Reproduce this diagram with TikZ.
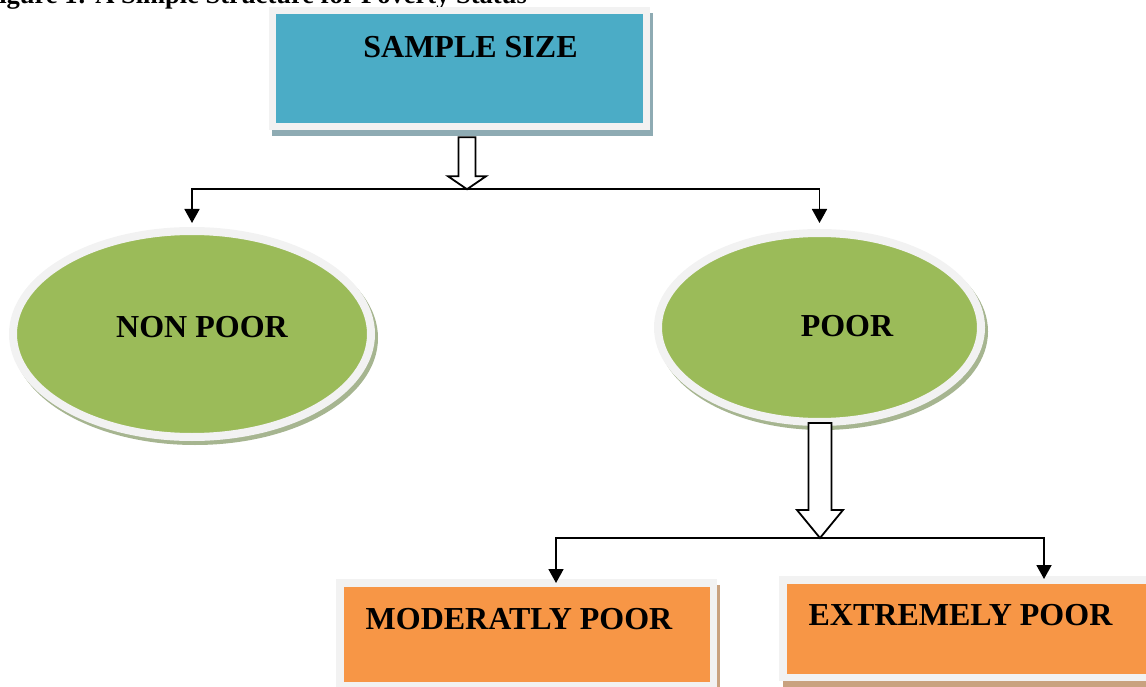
\documentclass[tikz,border=0pt]{standalone}
\usepackage{fontspec}
\setmainfont{Liberation Serif}
\usepackage{xcolor}
\usetikzlibrary{arrows.meta,calc,shadows,shapes.geometric}
\definecolor{BoxBlue}{HTML}{4BACC6}
\definecolor{LeafGreen}{HTML}{9BBB59}
\definecolor{Tangerine}{HTML}{F79646}
\definecolor{Frame}{HTML}{F2F2F2}
\definecolor{BlueShade}{HTML}{8EABB3}
\definecolor{GreenShade}{HTML}{A6B590}
\definecolor{OrangeShade}{HTML}{C9A27F}

\tikzset{
  panel/.style={rectangle, draw=Frame, line width=7.5pt, inner sep=0pt},
  oval/.style={ellipse, draw=Frame, fill=LeafGreen, line width=8pt, inner sep=0pt,
    general shadow={draw=GreenShade, fill=GreenShade, line width=8pt, shadow xshift=3pt, shadow yshift=-4pt}},
  tag/.style={anchor=base, inner sep=0pt, font=\fontsize{32}{38}\selectfont\bfseries},
  link/.style={line width=1.8pt, -{Triangle[width=15pt,length=14pt]}},
  hollow/.style={draw=black, fill=white, line width=1.8pt, line join=miter}
}

% hollow block arrow: tip, length, shaft half width, head half width, head length
\newcommand{\blockarrow}[5]{%
  \draw[hollow] ($(#1)+(-#3,-#2)$) -- ($(#1)+(#3,-#2)$) -- ($(#1)+(#3,-#5)$)
    -- ($(#1)+(#4,-#5)$) -- (#1) -- ($(#1)+(-#4,-#5)$) -- ($(#1)+(-#3,-#5)$) -- cycle;}

\begin{document}
\begin{tikzpicture}[x=1pt, y=-1pt]
\useasboundingbox (0,0) rectangle (1146,687);
\clip (0,0) rectangle (1146,687);
\node[anchor=base east, inner sep=0pt, font=\fontsize{26.5}{30}\selectfont\bfseries] (title) at (527,4) {Figure 1: A Simple Structure for Poverty Status};
% shapes
\node[panel, fill=BoxBlue, minimum width=374pt, minimum height=116pt,
  general shadow={draw=BlueShade, fill=BlueShade, line width=7.5pt, shadow xshift=3pt, shadow yshift=-6pt}] (sample) at (459.5,68.5) {};
\node[oval, minimum width=358pt, minimum height=206pt] (nonpoor) at (192,334) {};
\node[oval, minimum width=323pt, minimum height=189pt] (poor) at (819.5,327.5) {};
\node[panel, fill=Tangerine, minimum width=373.5pt, minimum height=103pt,
  general shadow={draw=OrangeShade, fill=OrangeShade, line width=7.5pt, shadow xshift=3pt, shadow yshift=-6pt}] (moderate) at (526.5,634.25) {};
\node[panel, fill=Tangerine, minimum width=378pt, minimum height=97.5pt,
  general shadow={draw=OrangeShade, fill=OrangeShade, line width=7.5pt, shadow xshift=4pt, shadow yshift=-6pt}] (extreme) at (972,628.5) {};
% texts
\node[tag] (tSample) at (470.5,58) {SAMPLE SIZE};
\node[tag] (tNonpoor) at (202,337) {NON POOR};
\node[tag] (tPoor) at (847,336) {POOR};
\node[tag] (tModerate) at (519,629) {MODERATLY POOR};
\node[tag] (tExtreme) at (960.5,625) {EXTREMELY POOR};
% connectors
\coordinate (splitA) at ([xshift=7.5pt,yshift=-59pt]sample.south);
\coordinate (splitB) at ([xshift=0.5pt,yshift=-112pt]poor.south);
\blockarrow{splitA}{52}{8.5}{19}{13}
\blockarrow{splitB}{115}{11.5}{23}{28}
\draw[link, shorten >=4pt] (splitA) -| (nonpoor.north);
\draw[link, shorten >=6pt] (splitA) -| (poor.north);
\draw[link, shorten >=-4pt] (splitB) -| ([xshift=29.5pt]moderate.north);
\draw[link, shorten >=-3pt] (splitB) -| ([xshift=72pt]extreme.north);
\end{tikzpicture}
\end{document}
